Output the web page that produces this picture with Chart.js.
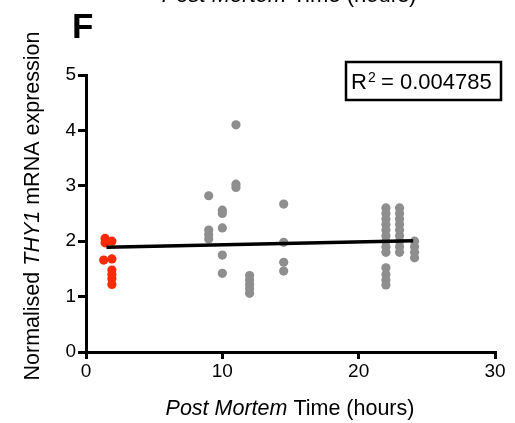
<!DOCTYPE html>
<html>
<head>
<meta charset="utf-8">
<script src="https://cdn.jsdelivr.net/npm/chart.js@4/dist/chart.umd.min.js"></script>
<style>
  html, body { margin: 0; padding: 0; background: #fff; }
  #wrap { width: 515px; height: 423px; }
</style>
</head>
<body>
<div id="wrap"><canvas id="chartPmi"></canvas></div>
<script>
// Post mortem interval (hours) vs normalised THY1 expression
const redX = [1.4, 1.4, 1.9, 1.3, 1.9, 1.9, 1.9, 1.9, 1.9];
const redY = [2.05, 1.97, 2.0, 1.66, 1.68, 1.48, 1.4, 1.32, 1.22];

const grayX = [
    9, 9, 9, 9,
    10, 10, 10, 10, 10,
    11, 11, 11,
    12, 12, 12, 12, 12,
    14.5, 14.5, 14.5, 14.5,
    22, 22, 22, 22, 22, 22, 22, 22, 22, 22, 22, 22, 22,
    23, 23, 23, 23, 23, 23, 23, 23, 23,
    24.1, 24.1, 24.1, 24.1
];
const grayY = [
    2.82, 2.2, 2.12, 2.04,
    2.56, 2.5, 2.24, 1.75, 1.42,
    4.1, 3.03, 2.97,
    1.38, 1.3, 1.22, 1.14, 1.06,
    2.67, 1.98, 1.62, 1.46,
    2.6, 2.5, 2.4, 2.3, 2.2, 2.1, 2.0, 1.9, 1.8, 1.52, 1.4, 1.3, 1.21,
    2.6, 2.5, 2.4, 2.3, 2.2, 2.1, 2.0, 1.9, 1.8,
    2.0, 1.9, 1.8, 1.7
];

const fitX = [1.5, 24];
const fitY = [1.89, 2.01];

const xTicks = [0, 10, 20, 30];
const yTicks = [0, 1, 2, 3, 4, 5];
const rSquared = "0.004785";

const FONT = "'Liberation Sans', Arial, sans-serif";

const toPoints = (xs, ys) => xs.map((x, i) => ({ x: x, y: ys[i] }));

// draw mixed italic / normal text pieces, centred on cx, baseline at by
function drawMixed(ctx, parts, size, cx, by, rotate) {
    ctx.save();
    ctx.translate(cx, by);
    if (rotate) ctx.rotate(-Math.PI / 2);
    let total = 0;
    parts.forEach(p => {
        ctx.font = (p.italic ? "italic " : "") + size + "px " + FONT;
        p.w = ctx.measureText(p.text).width;
        total += p.w;
    });
    let x = -total / 2;
    ctx.fillStyle = "#000";
    ctx.textBaseline = "alphabetic";
    ctx.textAlign = "left";
    parts.forEach(p => {
        ctx.font = (p.italic ? "italic " : "") + size + "px " + FONT;
        ctx.fillText(p.text, x, 0);
        x += p.w;
    });
    ctx.restore();
}

const xTitle = [{ text: "Post Mortem", italic: true }, { text: " Time (hours)" }];

const decorations = {
    id: "decorations",
    afterDraw(chart) {
        const ctx = chart.ctx;

        // cut off caption from the panel above
        drawMixed(ctx, xTitle, 22, 289, 2, false);

        // panel letter
        ctx.save();
        ctx.font = "bold 35px " + FONT;
        ctx.fillStyle = "#000";
        ctx.textBaseline = "alphabetic";
        ctx.fillText("F", 72, 38);
        ctx.restore();

        // axis titles
        drawMixed(ctx, xTitle, 21.5, 290, 415, false);
        drawMixed(ctx, [
            { text: "Normalised " },
            { text: "THY1", italic: true },
            { text: " mRNA expression" }
        ], 21.5, 38.5, 206, true);

        // R squared box
        ctx.save();
        ctx.strokeStyle = "#000";
        ctx.lineWidth = 2.5;
        ctx.strokeRect(346, 62, 155, 38);
        ctx.fillStyle = "#000";
        ctx.textBaseline = "alphabetic";
        ctx.font = "22px " + FONT;
        ctx.fillText("R", 351, 89);
        const rw = ctx.measureText("R").width;
        ctx.font = "14px " + FONT;
        ctx.fillText("2", 351 + rw + 1, 82);
        ctx.font = "22px " + FONT;
        ctx.fillText(" = " + rSquared, 351 + rw + 8, 89);
        ctx.restore();
    }
};

new Chart(document.getElementById("chartPmi"), {
    type: "scatter",
    data: {
        datasets: [
            {
                label: "Fit",
                type: "line",
                data: toPoints(fitX, fitY),
                borderColor: "#000",
                borderWidth: 3.5,
                pointRadius: 0,
                order: 0
            },
            {
                label: "Short PMI",
                data: toPoints(redX, redY),
                backgroundColor: "#fe2a06",
                borderWidth: 0,
                pointRadius: 4.6,
                order: 1
            },
            {
                label: "Other",
                data: toPoints(grayX, grayY),
                backgroundColor: "#8e8e8e",
                borderWidth: 0,
                pointRadius: 4.6,
                order: 1
            }
        ]
    },
    options: {
        responsive: true,
        maintainAspectRatio: false,
        animation: false,
        layout: { padding: { top: 75, right: 20, left: 0, bottom: 0 } },
        plugins: {
            legend: { display: false },
            tooltip: { enabled: false }
        },
        scales: {
            x: {
                type: "linear",
                min: 0,
                max: 30,
                afterBuildTicks: axis => { axis.ticks = xTicks.map(v => ({ value: v })); },
                afterFit: axis => { axis.height = 71; },
                border: { color: "#000", width: 3 },
                grid: { drawOnChartArea: false, color: "#000", lineWidth: 3, tickLength: 7 },
                ticks: { color: "#000", font: { family: FONT, size: 19 }, padding: 1 }
            },
            y: {
                type: "linear",
                min: 0,
                max: 5,
                afterBuildTicks: axis => { axis.ticks = yTicks.map(v => ({ value: v })); },
                afterFit: axis => { axis.width = 86; },
                border: { color: "#000", width: 3 },
                grid: { drawOnChartArea: false, color: "#000", lineWidth: 3, tickLength: 8 },
                ticks: { color: "#000", font: { family: FONT, size: 19 }, padding: 2 }
            }
        }
    },
    plugins: [decorations]
});
</script>
</body>
</html>
